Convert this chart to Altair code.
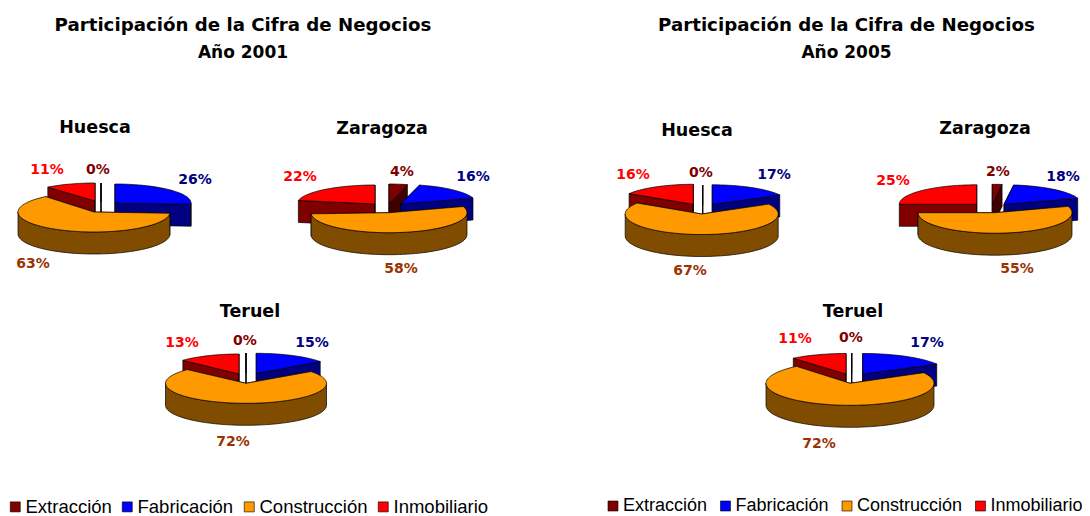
import math
import altair as alt

# ---- values (percent) ----
categorias = ["Extracción", "Fabricación", "Construcción", "Inmobiliario"]
provincias = ["Huesca", "Zaragoza", "Teruel"]
valores_2001 = {"Huesca": [0, 26, 63, 11], "Zaragoza": [4, 16, 58, 22], "Teruel": [0, 15, 72, 13]}
valores_2005 = {"Huesca": [0, 17, 67, 16], "Zaragoza": [2, 18, 55, 25], "Teruel": [0, 17, 72, 11]}
titulo_1 = "Participación de la Cifra de Negocios"
titulo_2001 = "Año 2001"
titulo_2005 = "Año 2005"

# ---- styles ----
tapa = ["#800000", "#0000FF", "#FF9900", "#FF0000"]
pared = ["#400000", "#000080", "#804D00", "#800000"]
tinta = ["#800000", "#000080", "#993300", "#FF0000"]
FONT = "Liberation Sans"
FONT_B = "DejaVu Sans"
FONDO = 22

# ---- layout: per slice (x, y, rx, ry) of the exploded pie geometry ----
geo = {
    ("2001", "Huesca"): [(101, 202, 74, 19), (115, 203, 76, 19), (94, 212, 76, 20), (95, 201, 74, 18)],
    ("2001", "Zaragoza"): [(389, 204, 74, 20), (400.7, 204, 76, 19.5), (389, 212.7, 78, 20), (375, 204, 78, 19)],
    ("2001", "Teruel"): [(246, 373, 79, 20), (256.3, 373.3, 79, 20), (246, 383.3, 80.5, 20), (239, 374, 77, 20)],
    ("2005", "Huesca"): [(702.7, 205, 76, 20), (712.3, 204.3, 77, 19.5), (701.7, 214, 76.5, 20.5), (693.3, 204.3, 76, 20)],
    ("2005", "Zaragoza"): [(992.3, 204.3, 78, 20), (1004, 204.3, 77.5, 19.5), (995, 212.7, 77, 20.5), (976.7, 204.3, 77.4, 19.5)],
    ("2005", "Teruel"): [(851.7, 373, 84, 20), (862.7, 374, 84.5, 20.5), (850, 383.3, 84, 22), (846, 374, 82.7, 20.5)],
}
ajuste = {("2001", "Zaragoza", 2): (0, -14)}

pos_etiquetas = {
    ("2001", "Huesca"): [(98, 170), (195, 180), (33, 264), (47, 170)],
    ("2001", "Zaragoza"): [(402, 172), (473, 177), (401, 269), (300, 177)],
    ("2001", "Teruel"): [(245, 341), (312, 343), (233, 442), (182, 343)],
    ("2005", "Huesca"): [(701, 173), (774, 175), (690, 271), (633, 175)],
    ("2005", "Zaragoza"): [(998, 172), (1063, 177), (1017, 269), (893, 181)],
    ("2005", "Teruel"): [(851, 338), (927, 343), (819, 444), (795, 339)],
}
pos_nombres = {
    ("2001", "Huesca"): (95, 128), ("2001", "Zaragoza"): (382, 129), ("2001", "Teruel"): (250, 312),
    ("2005", "Huesca"): (697, 131), ("2005", "Zaragoza"): (985, 129), ("2005", "Teruel"): (853, 312),
}


def rim(s, t):
    x, y, a, b = s
    r = math.radians(t)
    return [x + a * math.sin(r), y - b * math.cos(r)]


def feature(parte, ring):
    ring = ring + [ring[0]]
    return {"type": "Feature", "properties": {"parte": parte},
            "geometry": {"type": "Polygon", "coordinates": [ring]}}


def slice_features(i, s, t0, t1):
    x, y = s[0], s[1]
    wall = categorias[i] + " (lateral)"
    out = []
    for t in (t0, t1):
        p = rim(s, t)
        out.append(feature(wall, [[x, y], p, [p[0], p[1] + FONDO], [x, y + FONDO]]))
    lo, hi = max(t0, 90), min(t1, 270)
    if hi > lo:
        n = max(2, int((hi - lo) / 3))
        ts = [lo + (hi - lo) * k / n for k in range(n + 1)]
        top = [rim(s, t) for t in ts]
        out.append(feature(wall, top + [[p[0], p[1] + FONDO] for p in reversed(top)]))
    n = max(1, int((t1 - t0) / 3))
    arc = [rim(s, t0 + (t1 - t0) * k / n) for k in range(n + 1)]
    out.append(feature(categorias[i], [[x, y]] + arc))
    return out


def pie_features(year, prov, vals):
    starts = []
    acc = 0.0
    for v in vals:
        starts.append((acc, acc + v))
        acc += v
    feats = []
    for i in [0, 1, 3, 2]:
        d0, d1 = ajuste.get((year, prov, i), (0, 0))
        t0 = starts[i][0] * 3.6 + d0
        t1 = starts[i][1] * 3.6 + d1
        feats += slice_features(i, geo[(year, prov)][i], t0, t1)
    return feats


proj = dict(type="identity", scale=1, translate=[-8, -8])
dominio = categorias + [c + " (lateral)" for c in categorias]
rango = tapa + pared


def pies_layer(year, valores, legend_x, legend_y, fs, col_pad):
    feats = []
    for prov in provincias:
        feats += pie_features(year, prov, valores[prov])
    return alt.Chart(alt.Data(values=feats)).mark_geoshape(stroke="black", strokeWidth=0.7).encode(
        fill=alt.Fill("properties.parte:N",
                      scale=alt.Scale(domain=dominio, range=rango),
                      legend=alt.Legend(values=categorias, orient="none", direction="horizontal", columns=4,
                                        title=None, legendX=legend_x, legendY=legend_y,
                                        symbolType="square", symbolSize=100, symbolStrokeColor="black",
                                        symbolStrokeWidth=0.6, labelFont=FONT, labelFontSize=fs,
                                        labelColor="#000000", labelOffset=1, columnPadding=col_pad,
                                        labelLimit=200)),
    ).project(**proj)


etiquetas = []
nombres = []
for year, valores in (("2001", valores_2001), ("2005", valores_2005)):
    for prov in provincias:
        for i, v in enumerate(valores[prov]):
            x, y = pos_etiquetas[(year, prov)][i]
            etiquetas.append({"lon": x, "lat": y, "txt": f"{v}%", "cat": categorias[i]})
        x, y = pos_nombres[(year, prov)]
        nombres.append({"lon": x, "lat": y, "txt": prov})

titulos = [
    {"lon": 243, "lat": 26, "txt": titulo_1, "fs": 18.2},
    {"lon": 243, "lat": 53, "txt": titulo_2001, "fs": 17},
    {"lon": 846.5, "lat": 26, "txt": titulo_1, "fs": 18.2},
    {"lon": 846.5, "lat": 53, "txt": titulo_2005, "fs": 17},
]

capa_etiquetas = alt.Chart(alt.Data(values=etiquetas)).mark_text(
    font=FONT_B, fontWeight="bold", fontSize=14, align="center", baseline="middle"
).encode(
    longitude="lon:Q", latitude="lat:Q", text="txt:N",
    color=alt.Color("cat:N", scale=alt.Scale(domain=categorias, range=tinta), legend=None),
).project(**proj)

capa_nombres = alt.Chart(alt.Data(values=nombres)).mark_text(
    font=FONT_B, fontWeight="bold", fontSize=17.5, align="center", baseline="middle", color="black"
).encode(longitude="lon:Q", latitude="lat:Q", text="txt:N").project(**proj)

capa_titulos = alt.Chart(alt.Data(values=titulos)).mark_text(
    font=FONT_B, fontWeight="bold", align="center", baseline="middle", color="black"
).encode(
    longitude="lon:Q", latitude="lat:Q", text="txt:N",
    size=alt.Size("fs:Q", scale=None, legend=None),
).project(**proj)

chart = alt.layer(
    pies_layer("2001", valores_2001, -2, 489.5, 18.5, 6),
    pies_layer("2005", valores_2005, 596, 489, 18, 8.5),
    capa_etiquetas, capa_nombres, capa_titulos,
).resolve_scale(fill="independent").properties(
    width=1074, height=508, padding=0, autosize=alt.AutoSizeParams(type="none")
).configure_view(stroke=None)

chart.save("out.html", embed_options={"renderer": "svg", "actions": False})
